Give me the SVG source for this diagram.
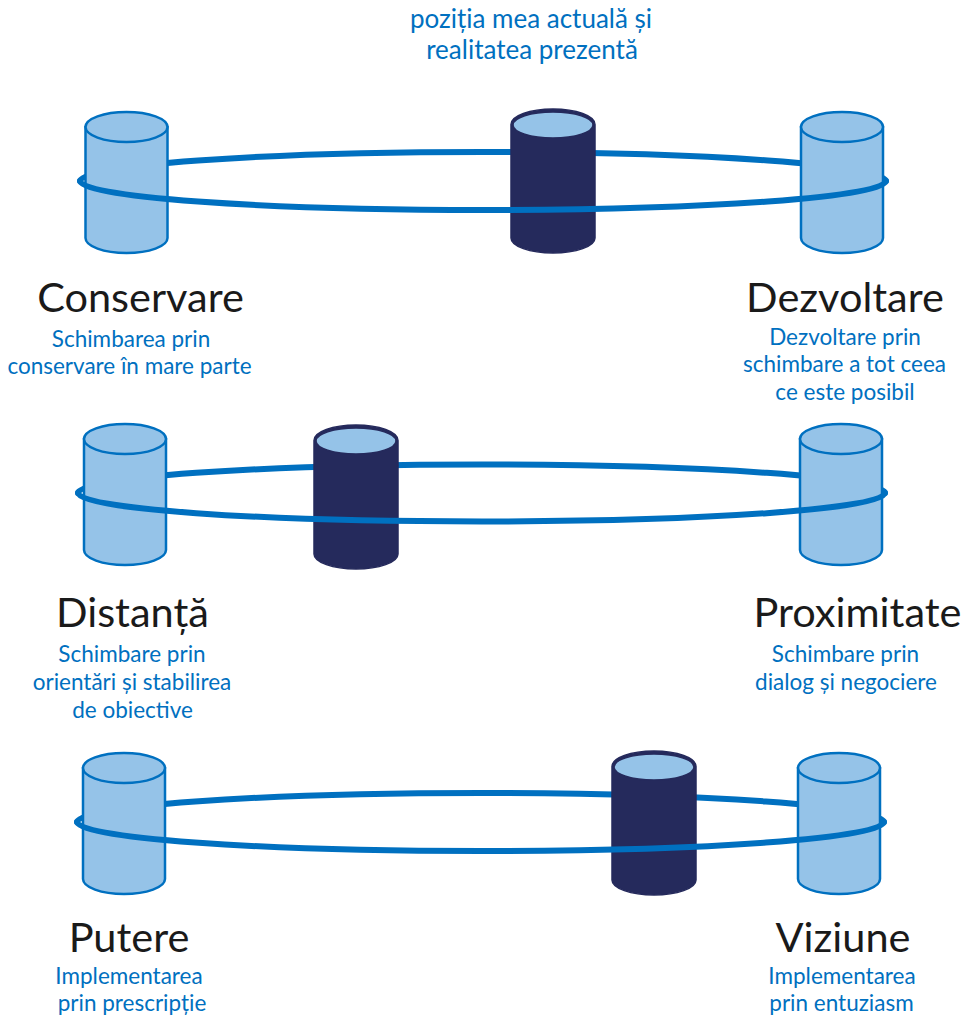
<svg xmlns="http://www.w3.org/2000/svg" width="969" height="1018" viewBox="0 0 969 1018">
  <defs>
    <style>
      .ring { fill: none; stroke: #0070c0; stroke-width: 6; stroke-linecap: round; }
      .light .body { fill: #95c3e8; stroke: #0070c0; stroke-width: 2.5; }
      .light .lid { fill: #95c3e8; stroke: #0070c0; stroke-width: 2.5; }
      .dark .body { fill: #252a5c; stroke: #252a5c; stroke-width: 1.5; }
      .dark .lid { fill: #95c3e8; stroke: #252a5c; stroke-width: 1.5; }
      .title { font-family: Lato, "Open Sans", sans-serif; font-size: 41.5px; fill: #1a1a1a; text-anchor: middle; }
      .sub { font-family: Lato, "Open Sans", sans-serif; font-size: 22.5px; fill: #0070c0; text-anchor: middle; }
      .head { font-family: Lato, "Open Sans", sans-serif; font-size: 26px; fill: #0070c0; text-anchor: middle; }
    </style>
    <!-- light cylinder: 82 wide, lid ry 15 -->
    <g id="cylLight" class="light">
      <path class="body" d="M0,15 V126 A41,15 0 0 0 82,126 V15 Z"/>
      <ellipse class="lid" cx="41" cy="15" rx="41" ry="15"/>
    </g>
    <!-- dark cylinder: 84 wide, light lid -->
    <g id="cylDark" class="dark">
      <path class="body" d="M0,15.5 V129 A42,15 0 0 0 84,129 V15.5 A42,15.5 0 0 0 0,15.5 Z"/>
      <ellipse class="lid" cx="42" cy="16" rx="40" ry="13"/>
    </g>
  </defs>

  <rect width="969" height="1018" fill="#ffffff"/>

  <text class="head" x="531" y="28">poziția mea actuală și</text>
  <text class="head" x="532" y="59">realitatea prezentă</text>

  <!-- back halves of the rings (pass behind the cylinders) -->
  <g id="connectors-back">
    <path class="ring" d="M80,181 A403,29 0 0 1 886,181"/>
    <path class="ring" d="M78,493 A403.5,28.5 0 0 1 885,493"/>
    <path class="ring" d="M77,822 A403.5,29 0 0 1 884,822"/>
  </g>

  <!-- row 1 -->
  <g id="node-conservare">
    <use href="#cylLight" x="85.5" y="112"/>
    <text class="title" x="140.5" y="312">Conservare</text>
    <text class="sub" x="131" y="347">Schimbarea prin</text>
    <text class="sub" x="129.5" y="374">conservare în mare parte</text>
  </g>
  <g id="node-pozitie-1">
    <use href="#cylDark" x="511" y="109"/>
  </g>
  <g id="node-dezvoltare">
    <use href="#cylLight" x="801" y="112"/>
    <text class="title" x="845" y="312">Dezvoltare</text>
    <text class="sub" x="845" y="345">Dezvoltare prin</text>
    <text class="sub" x="844.5" y="372">schimbare a tot ceea</text>
    <text class="sub" x="845" y="400">ce este posibil</text>
  </g>

  <!-- row 2 -->
  <g id="node-distanta">
    <use href="#cylLight" x="84" y="424"/>
    <text class="title" x="132.5" y="627">Distanță</text>
    <text class="sub" x="132" y="662">Schimbare prin</text>
    <text class="sub" x="132" y="690">orientări și stabilirea</text>
    <text class="sub" x="132.5" y="718">de obiective</text>
  </g>
  <g id="node-pozitie-2">
    <use href="#cylDark" x="314" y="425"/>
  </g>
  <g id="node-proximitate">
    <use href="#cylLight" x="800" y="424"/>
    <text class="title" x="857.5" y="627">Proximitate</text>
    <text class="sub" x="845.5" y="662">Schimbare prin</text>
    <text class="sub" x="846" y="690">dialog și negociere</text>
  </g>

  <!-- row 3 -->
  <g id="node-putere">
    <use href="#cylLight" x="83" y="753"/>
    <text class="title" x="129" y="952">Putere</text>
    <text class="sub" x="129" y="984">Implementarea</text>
    <text class="sub" x="132" y="1011">prin prescripție</text>
  </g>
  <g id="node-pozitie-3">
    <use href="#cylDark" x="612" y="751"/>
  </g>
  <g id="node-viziune">
    <use href="#cylLight" x="798" y="753"/>
    <text class="title" x="843" y="952">Viziune</text>
    <text class="sub" x="842" y="984">Implementarea</text>
    <text class="sub" x="841.5" y="1011">prin entuziasm</text>
  </g>

  <!-- front halves of the rings (pass in front of the cylinders) -->
  <g id="connectors-front">
    <path class="ring" d="M886,181 A403,29 0 0 1 80,181"/>
    <path class="ring" d="M885,493 A403.5,28.5 0 0 1 78,493"/>
    <path class="ring" d="M884,822 A403.5,29 0 0 1 77,822"/>
  </g>
</svg>
